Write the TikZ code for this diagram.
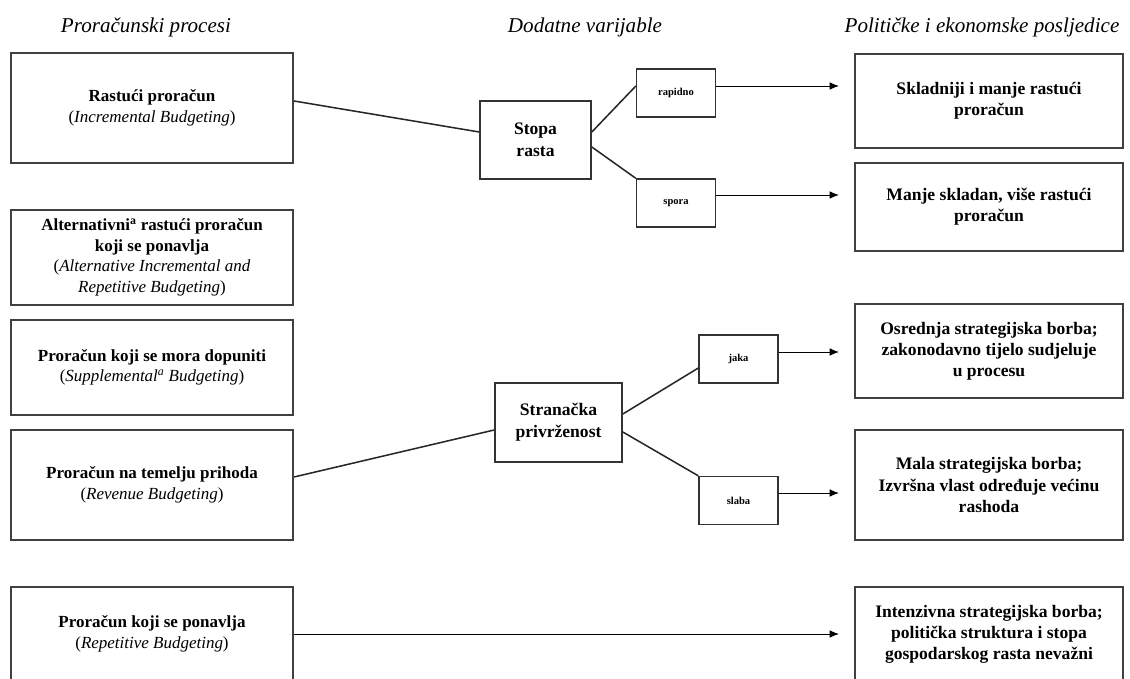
\documentclass[tikz,border=0pt]{standalone}
\usepackage{fontspec}
\setmainfont{Liberation Serif}
\usetikzlibrary{arrows.meta}
\tikzset{
  >={Latex[length=8pt,width=6.5pt]}, % filled arrow heads
  proc/.style={draw=black!75, line width=1.7pt, align=center, minimum width=8.46cm, font=\fontsize{14.5}{17.5}\selectfont}, % left column
  posl/.style={draw=black!75, line width=1.7pt, align=center, minimum width=8.04cm, font=\fontsize{15}{18}\selectfont\bfseries}, % right column
  var/.style={draw=black!80, line width=1.4pt, align=center, font=\fontsize{15}{19}\selectfont\bfseries}, % middle boxes
  opt/.style={draw=black!80, line width=1.4pt, minimum width=2.36cm, minimum height=1.43cm, font=\fontsize{9}{10}\selectfont\bfseries}, % small boxes
  naslov/.style={font=\fontsize{18}{20}\selectfont\itshape}, % column titles
  veza/.style={line width=1.3pt, black!85}, % plain connectors
  strel/.style={->, line width=0.8pt, shorten >=0.45cm}, % arrows to the results
}

\begin{document}
\begin{tikzpicture}[x=0.03cm, y=-0.03cm]
  \useasboundingbox (0,0) rectangle (1130,679);

  % column titles
  \node[naslov] (t1) at (146,27) {Proračunski procesi};
  \node[naslov] (t2) at (585,27) {Dodatne varijable};
  \node[naslov] (t3) at (982,27) {Političke i ekonomske posljedice};

  % budgeting processes
  \node[proc, minimum height=3.3cm] (inc) at (152,108)
    {\textbf{Rastući proračun}\\(\textit{Incremental Budgeting})};
  \node[proc, minimum height=2.85cm] (alt) at (152,257.5)
    {\textbf{Alternativni\textsuperscript{a} rastući proračun}\\\textbf{koji se ponavlja}\\(\textit{Alternative Incremental and}\\\textit{Repetitive Budgeting})};
  \node[proc, minimum height=2.85cm] (sup) at (152,367.5)
    {\textbf{Proračun koji se mora dopuniti}\\(\textit{Supplemental\textsuperscript{a} Budgeting})};
  \node[proc, minimum height=3.3cm] (rev) at (152,485)
    {\textbf{Proračun na temelju prihoda}\\(\textit{Revenue Budgeting})};
  \node[proc, minimum height=2.82cm] (rep) at (152,634)
    {\textbf{Proračun koji se ponavlja}\\(\textit{Repetitive Budgeting})};

  % additional variables
  \node[var, minimum width=3.33cm, minimum height=2.34cm] (stopa) at (535.5,140) {Stopa\\rasta};
  \node[opt] (rapidno) at (676,93) {rapidno};
  \node[opt] (spora) at (676,203) {spora};
  \node[var, minimum width=3.81cm, minimum height=2.37cm] (stran) at (558.5,422.5) {Stranačka\\privrženost};
  \node[opt] (jaka) at (738.5,359) {jaka};
  \node[opt] (slaba) at (738.5,500.5) {slaba};

  % consequences
  \node[posl, minimum height=2.82cm] (r1) at (989,101) {Skladniji i manje rastući\\proračun};
  \node[posl, minimum height=2.64cm] (r2) at (989,207) {Manje skladan, više rastući\\proračun};
  \node[posl, minimum height=2.82cm] (r3) at (989,351) {Osrednja strategijska borba;\\zakonodavno tijelo sudjeluje\\u procesu};
  \node[posl, minimum height=3.3cm] (r4) at (989,485) {Mala strategijska borba;\\Izvršna vlast određuje većinu\\rashoda};
  \node[posl, minimum height=2.82cm] (r5) at (989,634) {Intenzivna strategijska borba;\\politička struktura i stopa\\gospodarskog rasta nevažni};

  % growth rate branch
  \draw[veza] ([yshift=0.21cm]inc.east) -- ([yshift=0.24cm]stopa.west);
  \draw[veza] ([yshift=0.24cm]stopa.east) -- ([yshift=0.21cm]rapidno.west);
  \draw[veza] ([yshift=-0.21cm]stopa.east) -- (spora.north west);
  \draw[strel] ([yshift=0.21cm]rapidno.east) coordinate (a1) -- (a1 -| r1.west);
  \draw[strel] ([yshift=0.24cm]spora.east) coordinate (a2) -- (a2 -| r2.west);

  % party attachment branch
  \draw[veza] ([yshift=0.24cm]rev.east) -- ([yshift=-0.225cm]stran.west);
  \draw[veza] ([yshift=0.255cm]stran.east) -- ([yshift=-0.27cm]jaka.west);
  \draw[veza] ([yshift=-0.285cm]stran.east) -- (slaba.north west);
  \draw[strel] ([yshift=0.21cm]jaka.east) coordinate (a3) -- (a3 -| r3.west);
  \draw[strel] ([yshift=0.225cm]slaba.east) coordinate (a4) -- (a4 -| r4.west);

  % repetitive budgeting
  \draw[strel] (rep.east) -- (rep.east -| r5.west);
\end{tikzpicture}
\end{document}
